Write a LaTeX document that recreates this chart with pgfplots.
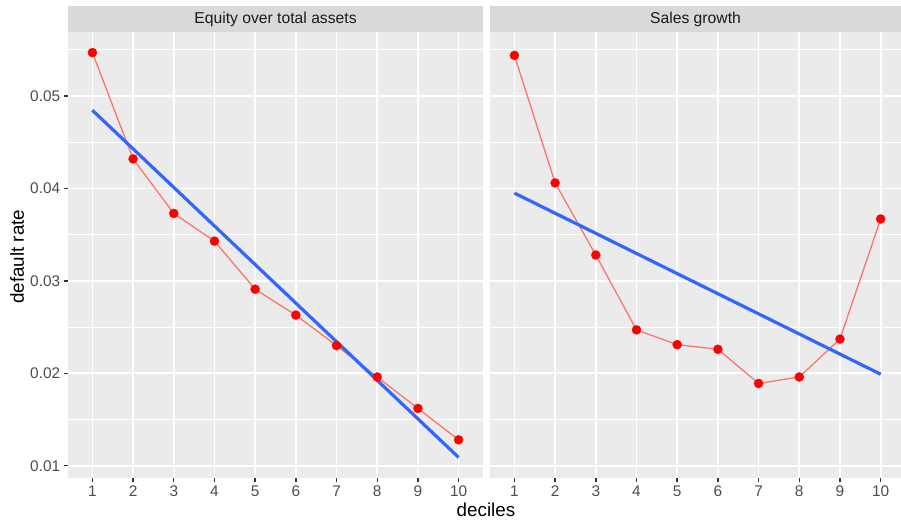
\documentclass[border=0pt]{standalone}
\usepackage{fontspec}
\setmainfont{Liberation Sans}
\usepackage{pgfplots}
\pgfplotsset{compat=1.18}
\definecolor{panelbg}{HTML}{EBEBEB}
\definecolor{stripbg}{HTML}{D9D9D9}
\definecolor{ticklab}{HTML}{4D4D4D}
\definecolor{tickcol}{HTML}{333333}
\definecolor{salmon}{HTML}{F8766D}
\definecolor{smoothblue}{HTML}{3366FF}
\definecolor{striptext}{HTML}{1A1A1A}
\pgfplotsset{facet/.style={
  scale only axis, height=445.7pt, ymin=0.00867, ymax=0.0569,
  axis background/.style={fill=panelbg}, axis line style={draw=none},
  grid=both, major grid style={white, line width=1.8pt}, minor grid style={white, line width=0.9pt},
  xtick={1,...,10}, ytick={0.01,0.02,0.03,0.04,0.05}, minor ytick={0.015,0.025,0.035,0.045,0.055},
  minor x tick num=0,
  tick align=outside, major tick length=4.4pt, minor tick length=0pt,
  tick style={tickcol, line width=1.4pt},
  xtick pos=bottom, ytick pos=left,
  /pgf/number format/assume math mode=true,
  ticklabel style={font=\fontsize{15.4}{18}\selectfont, text=ticklab, inner sep=0pt},
  xticklabel style={anchor=north, yshift=-3.6pt},
  yticklabel style={anchor=east, xshift=-3.2pt},
  scaled y ticks=false,
  yticklabel style={/pgf/number format/.cd, fixed, fixed zerofill, precision=2},
  clip=false,
}}
\pgfplotstableread{
x y
1 0.0547
2 0.0432
3 0.0373
4 0.0343
5 0.0291
6 0.0263
7 0.0230
8 0.0196
9 0.0162
10 0.0128
}\equity
\pgfplotstableread{
x y
1 0.0544
2 0.0406
3 0.0328
4 0.0247
5 0.0231
6 0.0226
7 0.0189
8 0.0196
9 0.0237
10 0.0367
}\sales
\begin{document}
\begin{tikzpicture}
\useasboundingbox (0pt,-42pt) rectangle (901pt,478pt);
\begin{axis}[facet, at={(68pt,0pt)}, anchor=south west, width=415pt, xmin=0.4, xmax=10.6]
\fill[stripbg] (rel axis cs:0,1) rectangle ([yshift=26.3pt]rel axis cs:1,1);
\node[text=striptext, font=\fontsize{15.7}{18}\selectfont, anchor=center] at ([yshift=13.15pt]rel axis cs:0.5,1) {Equity over total assets};
\addplot[salmon, line width=1.3pt, no marks] table {\equity};
\addplot[only marks, mark=*, mark size=4.6pt, red, mark options={fill=red, draw=red, line width=0.2pt}] table {\equity};
\addplot[smoothblue, line width=3.2pt] coordinates {(1,0.04846) (10,0.0109)};
\end{axis}
\begin{axis}[facet, at={(490pt,0pt)}, anchor=south west, width=411pt, xmin=0.4, xmax=10.5,
  yticklabels={}, ytick style={draw=none}]
\fill[stripbg] (rel axis cs:0,1) rectangle ([yshift=26.3pt]rel axis cs:1,1);
\node[text=striptext, font=\fontsize{15.7}{18}\selectfont, anchor=center] at ([yshift=13.15pt]rel axis cs:0.5,1) {Sales growth};
\addplot[salmon, line width=1.3pt, no marks] table {\sales};
\addplot[only marks, mark=*, mark size=4.6pt, red, mark options={fill=red, draw=red, line width=0.2pt}] table {\sales};
\addplot[smoothblue, line width=3.2pt] coordinates {(1,0.0395) (10,0.0199)};
\end{axis}
\node[font=\fontsize{18.8}{22}\selectfont, anchor=base] at (486pt,-38.7pt) {deciles};
\node[font=\fontsize{18.8}{22}\selectfont, rotate=90, anchor=base] at (24pt,221.3pt) {default rate};
\end{tikzpicture}
\end{document}
